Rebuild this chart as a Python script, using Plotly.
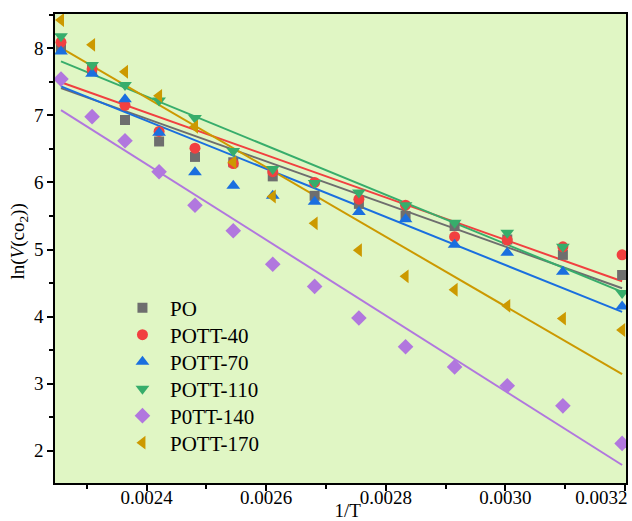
import numpy as np
import plotly.graph_objects as go

# 1/T values (K^-1)
inv_T = [0.002257, 0.002309, 0.002364, 0.002421, 0.002481, 0.002545, 0.002611,
         0.002681, 0.002755, 0.002833, 0.002915, 0.003003, 0.003096, 0.003195]

names = ["PO", "POTT-40", "POTT-70", "POTT-110", "P0TT-140", "POTT-170"]

po      = [8.00, 7.68, 6.93, 6.61, 6.38, 6.30, 6.09, 5.80, 5.68, 5.50, 5.35, 5.15, 4.92, 4.62]
pott40  = [8.09, 7.69, 7.15, 6.76, 6.51, 6.28, 6.16, 6.00, 5.75, 5.66, 5.19, 5.14, 5.04, 4.92]
pott70  = [7.95, 7.62, 7.24, 6.74, 6.15, 5.95, 5.80, 5.71, 5.56, 5.45, 5.07, 4.95, 4.67, 4.15]
pott110 = [8.18, 7.75, 7.45, 7.22, 6.96, 6.47, 6.20, 5.99, 5.85, 5.66, 5.40, 5.25, 5.04, 4.35]
pott140 = [7.54, 6.98, 6.62, 6.16, 5.66, 5.28, 4.78, 4.45, 3.98, 3.55, 3.25, 2.97, 2.67, 2.11]
pott170 = [8.42, 8.05, 7.65, 7.29, 6.83, 6.30, 5.79, 5.39, 4.99, 4.60, 4.40, 4.16, 3.97, 3.80]

x_tickvals = [0.0024, 0.0026, 0.0028, 0.0030, 0.0032]
x_ticktext = ["0.0024", "0.0026", "0.0028", "0.0030", "0.0032"]
y_tickvals = [2, 3, 4, 5, 6, 7, 8]

series = [po, pott40, pott70, pott110, pott140, pott170]
colors = ["#6E6E6E", "#F14040", "#1A6FDF", "#37AD6B", "#B177DE", "#CC9900"]
symbols = ["square", "circle", "triangle-up", "triangle-down", "diamond", "triangle-left"]
sizes = [10, 11, 12, 12, 12, 12]

FONT = "Liberation Serif"
NB = "&nbsp;"

fig = go.Figure()

# fitted lines (linear regression of the data)
for ys, c in zip(series, colors):
    k, b = np.polyfit(inv_T, ys, 1)
    xs = [inv_T[0], inv_T[-1]]
    fig.add_trace(go.Scatter(x=xs, y=[k * x + b for x in xs], mode="lines",
                             line=dict(color=c, width=2), showlegend=False,
                             hoverinfo="skip"))

legend_ids = ["legend", "legend2", "legend3", "legend4", "legend5", "legend6"]
for ys, c, s, sz, n, lg in zip(series, colors, symbols, sizes, names, legend_ids):
    fig.add_trace(go.Scatter(x=inv_T, y=ys, mode="markers", name=n,
                             legend=lg,
                             marker=dict(color=c, symbol=s, size=sz, line=dict(width=0))))

layout_legends = {}
legend_y = [0.3731, 0.3156, 0.2580, 0.2004, 0.1429, 0.0853]
for lg, yy in zip(legend_ids, legend_y):
    layout_legends[lg] = dict(x=0.105, y=yy, xanchor="left", yanchor="middle",
                              bgcolor="rgba(0,0,0,0)",
                              font=dict(family=FONT, size=21, color="black"),
                              itemwidth=45)

fig.update_layout(
    width=632, height=521,
    margin=dict(l=55, r=6, t=14, b=38),
    paper_bgcolor="white",
    plot_bgcolor="#E0F6C4",
    font=dict(family=FONT, size=19, color="black"),
    showlegend=True,
    **layout_legends,
)

# last label is right-aligned to the frame in the original
x_labels = x_ticktext[:-1] + [x_ticktext[-1] + NB * 10]

fig.update_xaxes(
    range=[0.002247, 0.0032015],
    tickvals=x_tickvals,
    ticktext=x_labels,
    ticks="outside", ticklen=6, tickwidth=1.5, tickcolor="black",
    minor=dict(ticks="outside", ticklen=4, tickwidth=1.5, tickcolor="black", dtick=0.0001, tick0=0.0023),
    showline=True, linecolor="black", linewidth=1.5, mirror=True,
    showgrid=False, zeroline=False, automargin=False,
    ticklabeloverflow="allow", ticklabelstandoff=-10,
    title=dict(text=NB * 3 + "1/T", font=dict(family=FONT, size=19), standoff=5),
    tickfont=dict(family=FONT, size=19),
)

fig.update_yaxes(
    range=[1.52, 8.51],
    tickvals=y_tickvals,
    ticks="outside", ticklen=6, tickwidth=1.5, tickcolor="black",
    minor=dict(ticks="outside", ticklen=4, tickwidth=1.5, tickcolor="black", dtick=0.5, tick0=1.5),
    showline=True, linecolor="black", linewidth=1.5, mirror=True,
    showgrid=False, zeroline=False, automargin=False,
    title=dict(text=NB * 3 + "ln(<i>V</i>(co<sub>2</sub>))", font=dict(family=FONT, size=19), standoff=4),
    tickfont=dict(family=FONT, size=19),
)

fig.write_html("out.html")
